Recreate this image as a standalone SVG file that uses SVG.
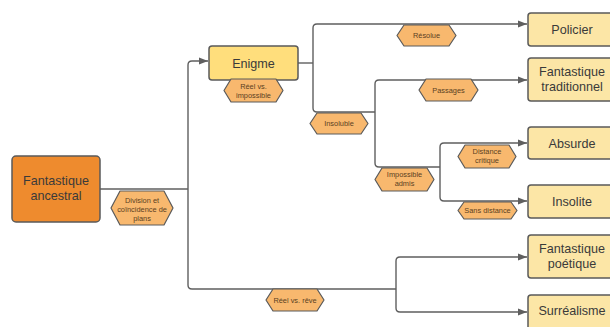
<svg xmlns="http://www.w3.org/2000/svg" width="610" height="327" viewBox="0 0 610 327">
<defs>
<marker id="arr" markerUnits="userSpaceOnUse" markerWidth="10" markerHeight="8" refX="9" refY="4" orient="auto">
<path d="M0,0.5 L9,4 L0,7.5 z" fill="#5f5f5f"/>
</marker>
<style>
.box{stroke:#5a5a5a;stroke-width:1.5}
.root{fill:#EE8B2E}
.enig{fill:#FFDE7C}
.leaf{fill:#FCE6A6}
.hex{fill:#F8B86E;stroke:#5a5a5a;stroke-width:1.2;stroke-linejoin:round}
.t{font-family:"Liberation Sans",Arial,sans-serif;fill:#3a3a3a;text-anchor:middle}
.big{font-size:12.6px}
.sm{font-size:7.4px;fill:#5a3f22}
.c{fill:none;stroke:#5f5f5f;stroke-width:1.4}
</style>
</defs>
<rect width="610" height="327" fill="#ffffff"/>
<g id="connectors">
<path class="c" d="M100,189 H188"/>
<path class="c" d="M188,189 V65 Q188,61 192,61 H208" marker-end="url(#arr)"/>
<path class="c" d="M188,189 V285 Q188,289 192,289 H396"/>
<path class="c" d="M396,289 V261 Q396,257 400,257 H527" marker-end="url(#arr)"/>
<path class="c" d="M396,289 V308 Q396,312 400,312 H527" marker-end="url(#arr)"/>
<path class="c" d="M298,63 H313"/>
<path class="c" d="M313,63 V28 Q313,24 317,24 H527" marker-end="url(#arr)"/>
<path class="c" d="M313,63 V108 Q313,112 317,112 H375"/>
<path class="c" d="M375,112 V84 Q375,80 379,80 H527" marker-end="url(#arr)"/>
<path class="c" d="M375,112 V163 Q375,167 379,167 H440"/>
<path class="c" d="M440,167 V147 Q440,143 444,143 H527" marker-end="url(#arr)"/>
<path class="c" d="M440,167 V197 Q440,201 444,201 H527" marker-end="url(#arr)"/>
</g>
<g id="n-ancestral">
<rect class="box root" x="12" y="156" width="88" height="66" rx="4"/>
<text class="t big" x="56" y="185">Fantastique</text>
<text class="t big" x="56" y="200">ancestral</text>
</g>
<g id="n-enigme">
<rect class="box enig" x="209" y="46" width="89" height="34" rx="3"/>
<text class="t big" x="253.5" y="67.5">Enigme</text>
</g>
<g id="n-policier">
<rect class="box leaf" x="528" y="13" width="90" height="33" rx="3"/>
<text class="t big" x="572" y="33.5">Policier</text>
</g>
<g id="n-traditionnel">
<rect class="box leaf" x="528" y="58" width="90" height="43" rx="3"/>
<text class="t big" x="572" y="76">Fantastique</text>
<text class="t big" x="572" y="91">traditionnel</text>
</g>
<g id="n-absurde">
<rect class="box leaf" x="528" y="127" width="90" height="32" rx="3"/>
<text class="t big" x="572" y="147.5">Absurde</text>
</g>
<g id="n-insolite">
<rect class="box leaf" x="528" y="185" width="90" height="33" rx="3"/>
<text class="t big" x="572" y="206">Insolite</text>
</g>
<g id="n-poetique">
<rect class="box leaf" x="528" y="235" width="90" height="43" rx="3"/>
<text class="t big" x="572" y="253">Fantastique</text>
<text class="t big" x="572" y="268">poétique</text>
</g>
<g id="n-surrealisme">
<rect class="box leaf" x="528" y="295" width="90" height="40" rx="3"/>
<text class="t big" x="572" y="315">Surréalisme</text>
</g>
<g id="l-division">
<polygon class="hex" points="111,208 120,191 164,191 173,208 164,225 120,225"/>
<text class="t sm" x="142" y="203">Division et</text>
<text class="t sm" x="142" y="212">coïncidence de</text>
<text class="t sm" x="142" y="220.5">plans</text>
</g>
<g id="l-reel-impossible">
<polygon class="hex" points="224,90.5 231,79 276,79 283,90.5 276,102 231,102"/>
<text class="t sm" x="253.5" y="88.5">Réel vs.</text>
<text class="t sm" x="253.5" y="97.5">impossible</text>
</g>
<g id="l-resolue">
<polygon class="hex" points="397,35.5 404,25 449,25 456,35.5 449,46 404,46"/>
<text class="t sm" x="426.5" y="38">Résolue</text>
</g>
<g id="l-passages">
<polygon class="hex" points="419,90 426,79 471,79 478,90 471,101 426,101"/>
<text class="t sm" x="448.5" y="92.5">Passages</text>
</g>
<g id="l-insoluble">
<polygon class="hex" points="310,123.5 317,113 361,113 368,123.5 361,134 317,134"/>
<text class="t sm" x="339" y="126">Insoluble</text>
</g>
<g id="l-impossible-admis">
<polygon class="hex" points="375,179.5 382,168 427,168 434,179.5 427,191 382,191"/>
<text class="t sm" x="404.5" y="177">Impossible</text>
<text class="t sm" x="404.5" y="186">admis</text>
</g>
<g id="l-distance-critique">
<polygon class="hex" points="458,156.5 465,145 509,145 516,156.5 509,168 465,168"/>
<text class="t sm" x="487" y="154">Distance</text>
<text class="t sm" x="487" y="163">critique</text>
</g>
<g id="l-sans-distance">
<polygon class="hex" points="458,210.5 464,202 511,202 517,210.5 511,219 464,219"/>
<text class="t sm" x="487.5" y="213">Sans distance</text>
</g>
<g id="l-reel-reve">
<polygon class="hex" points="266,300 273,289 317,289 324,300 317,311 273,311"/>
<text class="t sm" x="295" y="302.5">Réel vs. rêve</text>
</g>
</svg>
